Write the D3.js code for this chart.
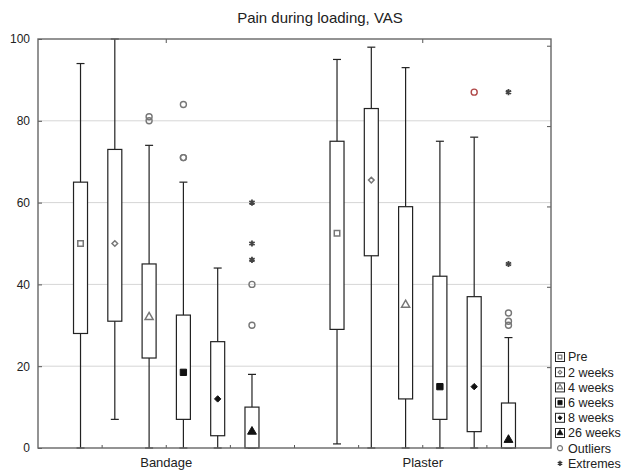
<!DOCTYPE html>
<html>
<head>
<meta charset="utf-8">
<script src="https://cdn.jsdelivr.net/npm/d3@7"></script>
<style>
  body { margin: 0; background: #fff; }
  text { font-family: "Liberation Sans", Arial, sans-serif; fill: #222; }
</style>
</head>
<body>
<div id="chart"></div>
<script>
// values
var groups = ["Bandage", "Plaster"];
var series = ["Pre", "2 weeks", "4 weeks", "6 weeks", "8 weeks", "26 weeks"];
var yTicks = [0, 20, 40, 60, 80, 100];

// one row per group, one value per series
var whiskerLow  = [[0, 7, 0, 0, 0, 0], [1, 0, 0, 0, 0, 0]];
var boxLow      = [[28, 31, 22, 7, 3, 0], [29, 47, 12, 7, 4, 0]];
var medians     = [[50, 50, 32, 18.5, 12, 4], [52.5, 65.5, 35, 15, 15, 2]];
var boxHigh     = [[65, 73, 45, 32.5, 26, 10], [75, 83, 59, 42, 37, 11]];
var whiskerHigh = [[94, 100, 74, 65, 44, 18], [95, 98, 93, 75, 76, 27]];
var outliers = [
  [[], [], [80, 81], [71, 71, 84], [], [30, 40]],
  [[], [], [], [], [87], [30, 31, 33]]
];
var extremes = [
  [[], [], [], [], [], [46, 50, 60]],
  [[], [], [], [], [], [45, 87]]
];

var svgWidth = 628, svgHeight = 471;
var margin = { top: 39, right: 77, bottom: 23, left: 38 };
var width = svgWidth - margin.left - margin.right;
var height = svgHeight - margin.top - margin.bottom;

var svg = d3.select("#chart").append("svg")
    .attr("width", svgWidth)
    .attr("height", svgHeight);

var g = svg.append("g").attr("transform", `translate(${margin.left},${margin.top})`);

var x0 = d3.scaleBand().domain(groups).range([0, width]);
var x1 = d3.scalePoint().domain(series).range([0, x0.bandwidth()]).padding(1.24);
var y = d3.scaleLinear().domain([0, 100]).range([height, 0]);

// marker look per series
var markerType = [d3.symbolSquare, d3.symbolDiamond2, d3.symbolTriangle, d3.symbolSquare, d3.symbolDiamond2, d3.symbolTriangle];
var markerSize = [30, 20, 28, 40, 26, 34];
var markerFilled = [false, false, false, true, true, true];

// grid lines
g.append("g").selectAll("line")
  .data(yTicks.filter(d => d > 0 && d < 100))
  .join("line")
    .attr("x1", 0).attr("x2", width)
    .attr("y1", d => y(d)).attr("y2", d => y(d))
    .attr("stroke", "#d6d6d6");

// left axis
var leftAxis = g.append("g")
    .call(d3.axisLeft(y).tickValues(yTicks).tickSize(-4).tickPadding(8));
leftAxis.select(".domain").remove();
leftAxis.selectAll(".tick line").attr("stroke", "#555");
leftAxis.selectAll("text").attr("font-size", 12).attr("fill", "#333");

// minor ticks along bottom (quarters of each group band)
var quarter = [];
groups.forEach(function (gr) {
  [1, 2, 3, 4].forEach(k => quarter.push(x0(gr) + x0.bandwidth() * k / 4));
});
g.append("g").selectAll("line")
  .data(quarter.filter(d => d < width - 1))
  .join("line")
    .attr("x1", d => d).attr("x2", d => d)
    .attr("y1", height).attr("y2", height - 3)
    .attr("stroke", "#555");

// ticks along top at group centres
g.append("g").selectAll("line")
  .data(groups)
  .join("line")
    .attr("x1", d => x0(d) + x0.bandwidth() / 2).attr("x2", d => x0(d) + x0.bandwidth() / 2)
    .attr("y1", 0).attr("y2", 4)
    .attr("stroke", "#555");

// right side ticks
var yRight = d3.scaleLinear().domain([0, 5.09]).range([height, 0]);
g.append("g").selectAll("line")
  .data([1, 2, 3, 4, 5])
  .join("line")
    .attr("x1", width).attr("x2", width - 4)
    .attr("y1", d => yRight(d)).attr("y2", d => yRight(d))
    .attr("stroke", "#555");

// category labels
g.append("g").selectAll("text")
  .data(groups)
  .join("text")
    .attr("x", d => x0(d) + x0.bandwidth() / 2)
    .attr("y", height + 19)
    .attr("text-anchor", "middle")
    .attr("font-size", 13)
    .text(d => d);

// boxes
var boxW = 14, capW = 8;
var cells = [];
groups.forEach(function (gr, gi) {
  series.forEach(function (s, si) {
    cells.push({ gi: gi, si: si, cx: x0(gr) + x1(s) });
  });
});

var cell = g.append("g").selectAll("g")
  .data(cells)
  .join("g");

cell.append("line")
    .attr("x1", d => d.cx).attr("x2", d => d.cx)
    .attr("y1", d => y(whiskerLow[d.gi][d.si]))
    .attr("y2", d => y(whiskerHigh[d.gi][d.si]))
    .attr("stroke", "#222").attr("stroke-width", 1.2);

cell.append("line")
    .attr("x1", d => d.cx - capW / 2).attr("x2", d => d.cx + capW / 2)
    .attr("y1", d => y(whiskerHigh[d.gi][d.si])).attr("y2", d => y(whiskerHigh[d.gi][d.si]))
    .attr("stroke", "#222").attr("stroke-width", 1.2);

cell.append("line")
    .attr("x1", d => d.cx - capW / 2).attr("x2", d => d.cx + capW / 2)
    .attr("y1", d => y(whiskerLow[d.gi][d.si])).attr("y2", d => y(whiskerLow[d.gi][d.si]))
    .attr("stroke", "#222").attr("stroke-width", 1.2);

cell.append("rect")
    .attr("x", d => d.cx - boxW / 2)
    .attr("width", boxW)
    .attr("y", d => y(boxHigh[d.gi][d.si]))
    .attr("height", d => y(boxLow[d.gi][d.si]) - y(boxHigh[d.gi][d.si]))
    .attr("fill", "#fff").attr("stroke", "#222").attr("stroke-width", 1.2);

cell.append("path")
    .attr("transform", d => `translate(${d.cx},${y(medians[d.gi][d.si])})`)
    .attr("d", d => d3.symbol(markerType[d.si], markerSize[d.si])())
    .attr("fill", d => markerFilled[d.si] ? "#111" : "#fff")
    .attr("stroke", d => markerFilled[d.si] ? "#111" : "#777")
    .attr("stroke-width", d => markerFilled[d.si] ? 1 : 1.5);

// outliers and extremes
cell.each(function (d) {
  var sel = d3.select(this);
  sel.selectAll("circle.out")
    .data(outliers[d.gi][d.si])
    .join("circle")
      .attr("class", "out")
      .attr("cx", d.cx).attr("cy", v => y(v)).attr("r", 3)
      .attr("fill", "none")
      .attr("stroke", d.gi === 1 && d.si === 4 ? "#b04848" : "#777")
      .attr("stroke-width", 1.4);
  sel.selectAll("path.ext")
    .data(extremes[d.gi][d.si])
    .join("path")
      .attr("class", "ext")
      .attr("transform", v => `translate(${d.cx},${y(v)})`)
      .attr("d", d3.symbol(d3.symbolAsterisk, 26)())
      .attr("fill", "none").attr("stroke", "#444").attr("stroke-width", 1.8);
});

// frame
g.append("rect")
    .attr("width", width).attr("height", height)
    .attr("fill", "none").attr("stroke", "#666").attr("stroke-width", 1.4);

// title
svg.append("text")
    .attr("x", 320).attr("y", 23)
    .attr("text-anchor", "middle")
    .attr("font-size", 15)
    .text("Pain during loading, VAS");

// legend
var legendLabels = series.concat(["Outliers", "Extremes"]);
var legend = svg.append("g").attr("transform", "translate(560,357)");
var item = legend.selectAll("g")
  .data(legendLabels)
  .join("g")
    .attr("transform", (d, i) => `translate(0,${i * 15.2})`);

item.filter((d, i) => i < series.length).append("rect")
    .attr("x", -4.5).attr("y", -4.5).attr("width", 9).attr("height", 9)
    .attr("fill", "#fff").attr("stroke", "#222").attr("stroke-width", 1);

item.filter((d, i) => i < series.length).append("path")
    .attr("d", (d, i) => d3.symbol(markerType[i], markerSize[i] * 0.45)())
    .attr("fill", (d, i) => markerFilled[i] ? "#111" : "#fff")
    .attr("stroke", (d, i) => markerFilled[i] ? "#111" : "#777")
    .attr("stroke-width", (d, i) => markerFilled[i] ? 0.8 : 1.2);

item.filter(d => d === "Outliers").append("circle")
    .attr("r", 2.5).attr("fill", "none").attr("stroke", "#777").attr("stroke-width", 1.2);

item.filter(d => d === "Extremes").append("path")
    .attr("d", d3.symbol(d3.symbolAsterisk, 18)())
    .attr("fill", "none").attr("stroke", "#333").attr("stroke-width", 1.5);

item.append("text")
    .attr("x", 8).attr("dy", "0.35em")
    .attr("font-size", 12.5)
    .text(d => d);
</script>
</body>
</html>
